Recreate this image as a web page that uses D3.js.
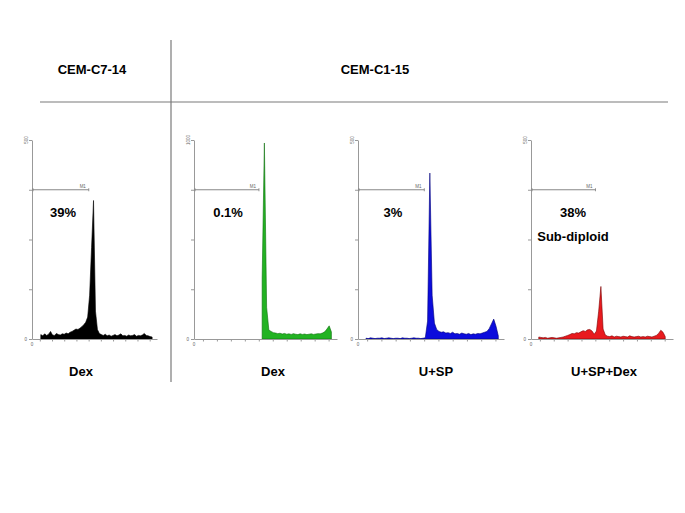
<!DOCTYPE html>
<html>
<head>
<meta charset="utf-8">
<script src="https://cdn.jsdelivr.net/npm/d3@7"></script>
<style>
  html, body { margin: 0; padding: 0; background: #fff; }
  svg { display: block; font-family: "Liberation Sans", Arial, sans-serif; }
  .lbl { font-weight: bold; font-size: 13px; fill: #000; text-anchor: middle; }
  .tiny { font-size: 4.5px; fill: #666; }
  .axis path, .axis line { stroke: #999; stroke-width: 1; }
</style>
</head>
<body>
<svg id="chart" width="685" height="513"></svg>
<script>
// Cell lines (header), treatments (under each histogram), % sub-diploid
const cellLines  = ['CEM-C7-14', 'CEM-C1-15'];
const treatments = ['Dex', 'Dex', 'U+SP', 'U+SP+Dex'];
const percents   = ['39%', '0.1%', '3%', '38%'];
const extraNote  = ['', '', '', 'Sub-diploid'];
const yMaxes     = [500, 1000, 500, 500];
const yTopLabels = ['500', '1000', '500', '500'];
const xTicks     = [64, 164, 264, 364, 464, 564, 664, 764, 864, 964];
const gateM1     = [0, 465];          // M1 marker, channels
const BIN = 16;                       // 64 bins over 1024 channels

// DNA content histograms (counts per bin of 16 channels)
const histC7Dex = [0, 0, 0, 0,
  11, 8, 13, 9, 12, 19, 10, 9, 14, 11, 10, 13,
  12, 15, 13, 17, 19, 22, 25, 24,
  27, 31, 36, 42, 55, 110, 230, 348, 70, 24,
  14, 11, 9, 12, 8, 10, 7, 9, 11, 8, 10, 13, 8, 9, 7, 10, 8, 9, 11, 7, 9, 8, 10, 14, 9, 8, 6, 5,
  0, 0];
const histC1Dex = [0, 0, 0, 0, 0, 0, 0, 0, 0, 0, 0, 0, 0, 0, 0, 0, 0, 0, 0, 0, 0, 0, 0, 0, 0, 0, 0, 0, 0, 0,
  300, 985, 160, 45,
  38, 32, 30, 27, 29, 25, 28, 24, 26, 23, 27, 24, 22, 26, 23, 25, 22, 24, 26, 23, 25, 27, 26, 30, 36, 50, 66, 35, 0, 0];
const histC1USP = [0, 0, 0,
  2, 1, 3, 2, 1, 2, 2, 3, 1, 2, 3, 2, 1, 2, 2, 1, 3, 2, 2, 1, 2, 3, 2, 2, 1, 2, 3,
  45, 417, 110, 40,
  24, 19, 17, 18, 15, 16, 14, 17, 13, 14, 12, 15, 13, 12, 14, 11, 13, 12, 14, 13, 15, 17, 19, 26, 38, 50, 32, 8, 0, 0];
const histC1USPDex = [0, 0, 0,
  5, 4, 3, 4, 2, 3, 4, 3, 2, 3, 4, 5,
  7, 9, 11, 14, 13, 16, 15, 18, 21, 19, 23, 24, 20, 12, 20,
  70, 132, 25,
  10, 7, 6, 8, 5, 7, 6, 5, 7, 6, 5, 8, 6, 5, 6, 7, 5, 6, 5, 7, 6, 5, 7, 9, 14, 22, 17, 6, 0, 0, 0];

const series = [histC7Dex, histC1Dex, histC1USP, histC1USPDex];

// layout + colours
const PANELS = [
  { x0: 32,  x1: 157, fill: '#000000', stroke: '#000000', lx: 81,  px: 63 },
  { x0: 194, x1: 337, fill: '#22b322', stroke: '#0f6e0f', lx: 273, px: 228 },
  { x0: 358, x1: 504, fill: '#0c0cdc', stroke: '#000078', lx: 436, px: 393 },
  { x0: 531, x1: 673, fill: '#e81a1e', stroke: '#7a0000', lx: 604, px: 573 },
];
const TOP = 140, BOTTOM = 339;
const GRID = '#7a7a7a';

const svg = d3.select('#chart');

// ----- frame: header, divider lines -----
svg.append('line').attr('x1', 171).attr('x2', 171).attr('y1', 40).attr('y2', 382)
  .attr('stroke', GRID).attr('stroke-width', 1.2);
svg.append('line').attr('x1', 40).attr('x2', 668).attr('y1', 102).attr('y2', 102)
  .attr('stroke', GRID).attr('stroke-width', 1.2);
svg.append('text').attr('class', 'lbl').attr('x', 92).attr('y', 73.5).text(cellLines[0]);
svg.append('text').attr('class', 'lbl').attr('x', 375).attr('y', 73.5).text(cellLines[1]);

// ----- histograms -----
PANELS.forEach((p, i) => {
  const x = d3.scaleLinear().domain([0, 1024]).range([p.x0, p.x1]);
  const y = d3.scaleLinear().domain([0, yMaxes[i]]).range([BOTTOM, TOP]);
  const g = svg.append('g');

  // histogram area
  const pts = series[i].map((v, k) => ({ c: k * BIN + BIN / 2, v }));
  const area = d3.area()
    .defined(d => d.v > 0)
    .x(d => x(d.c)).y0(y(0)).y1(d => y(d.v));
  g.append('path').datum(pts)
    .attr('d', area)
    .attr('fill', p.fill)
    .attr('stroke', p.stroke)
    .attr('stroke-width', 0.6)
    .attr('stroke-linejoin', 'round');

  // axes
  g.append('g').attr('class', 'axis')
    .attr('transform', `translate(${p.x0},0)`)
    .call(d3.axisLeft(y).tickValues(d3.range(0, yMaxes[i] + 1, yMaxes[i] / 4))
      .tickSize(3).tickSizeOuter(0).tickFormat(''));
  g.append('g').attr('class', 'axis')
    .attr('transform', `translate(0,${BOTTOM})`)
    .call(d3.axisBottom(x).tickValues(xTicks).tickSize(2.5).tickSizeOuter(0).tickFormat(''));
  g.selectAll('.axis .domain').attr('stroke', '#999');

  // tiny axis labels
  g.append('text').attr('class', 'tiny')
    .attr('transform', `translate(${p.x0 - 4},${TOP}) rotate(-90)`)
    .attr('text-anchor', 'middle').text(yTopLabels[i]);
  g.append('text').attr('class', 'tiny').attr('x', p.x0 - 5).attr('y', BOTTOM + 1.5)
    .attr('text-anchor', 'end').text('0');
  g.append('text').attr('class', 'tiny').attr('x', p.x0).attr('y', BOTTOM + 7)
    .attr('text-anchor', 'middle').text('0');

  // M1 gate marker
  const gy = y(yMaxes[i] * 0.75);
  g.append('line').attr('x1', x(gateM1[0]) + 1).attr('x2', x(gateM1[1]))
    .attr('y1', gy).attr('y2', gy).attr('stroke', GRID).attr('stroke-width', 0.9);
  [gateM1[0], gateM1[1]].forEach(c => {
    g.append('line').attr('x1', x(c) + (c === 0 ? 1 : 0)).attr('x2', x(c) + (c === 0 ? 1 : 0))
      .attr('y1', gy - 1.5).attr('y2', gy + 1.5).attr('stroke', GRID).attr('stroke-width', 0.8);
  });
  g.append('text').attr('class', 'tiny').attr('x', x(gateM1[1]) - 6).attr('y', gy - 1.5)
    .attr('text-anchor', 'middle').text('M1');

  // labels
  g.append('text').attr('class', 'lbl').attr('x', p.px).attr('y', 217).text(percents[i]);
  if (extraNote[i]) {
    g.append('text').attr('class', 'lbl').attr('x', p.px).attr('y', 241).text(extraNote[i]);
  }
  g.append('text').attr('class', 'lbl').attr('x', p.lx).attr('y', 375.5).text(treatments[i]);
});
</script>
</body>
</html>
